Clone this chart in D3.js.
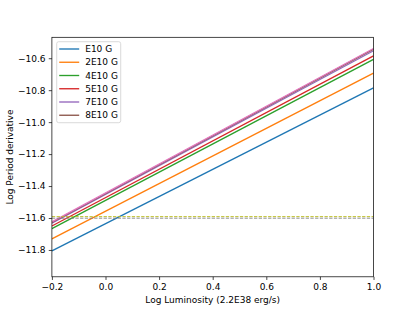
<!DOCTYPE html>
<html>
<head>
<meta charset="utf-8">
<script src="https://cdn.jsdelivr.net/npm/d3@7"></script>
<style>
  body { margin: 0; background: #fff; }
  svg text { font-family: "DejaVu Sans", sans-serif; }
</style>
</head>
<body>
<div id="chart"></div>
<script>
// log luminosity end points
var lumX = [-0.2, 1.0]

// log Pdot at the two end points, one array per field strength
var fieldLabels = ["E10 G", "2E10 G", "4E10 G", "5E10 G", "7E10 G", "8E10 G", ""]
var pdotE10 = [-11.806, -10.785]
var pdot2E10 = [-11.731, -10.693]
var pdot4E10 = [-11.667, -10.607]
var pdot5E10 = [-11.650, -10.585]
var pdot7E10 = [-11.633, -10.553]
var pdot8E10 = [-11.628, -10.543]
var pdotExtra = [-11.624, -10.539]
var lineColors = ["#1f77b4", "#ff7f0e", "#2ca02c", "#d62728", "#9467bd", "#8c564b", "#e377c2"]

// horizontal dashed reference levels
var refLevels = [-11.601, -11.591]
var refColors = ["#7f7f7f", "#bcbd22"]

var xTicks = [-0.2, 0.0, 0.2, 0.4, 0.6, 0.8, 1.0]
var yTicks = [-11.8, -11.6, -11.4, -11.2, -11.0, -10.8, -10.6]

var series = [pdotE10, pdot2E10, pdot4E10, pdot5E10, pdot7E10, pdot8E10, pdotExtra]

var W = 415, H = 311
var margin = { top: 37.3, right: 41.5, bottom: 34.2, left: 51.9 },
  width = W - margin.left - margin.right,
  height = H - margin.top - margin.bottom

var svg = d3.select("#chart")
  .append("svg")
  .attr("width", W)
  .attr("height", H)
  .append("g")
  .attr("transform", "translate(" + margin.left + "," + margin.top + ")")

var x = d3.scaleLinear().domain([-0.2, 1.0]).range([0, width])
var y = d3.scaleLinear().domain([-11.968, -10.469]).range([height, 0])

svg.append("defs").append("clipPath").attr("id", "clip")
  .append("rect").attr("width", width).attr("height", height)

var plot = svg.append("g").attr("clip-path", "url(#clip)")

var line = d3.line()
  .x(function (d, i) { return x(lumX[i]) })
  .y(function (d) { return y(d) })

series.forEach(function (s, k) {
  plot.append("path")
    .datum(s)
    .attr("d", line)
    .attr("fill", "none")
    .attr("stroke", lineColors[k])
    .attr("stroke-width", 1.35)
})

refLevels.forEach(function (v, k) {
  plot.append("line")
    .attr("x1", 0).attr("x2", width)
    .attr("y1", y(v)).attr("y2", y(v))
    .attr("stroke", refColors[k])
    .attr("stroke-width", 0.9)
    .attr("stroke-dasharray", "3.3,1.4")
})

// axes
var fmt = d3.format(".1f")
svg.append("g")
  .attr("transform", "translate(0," + height + ")")
  .call(d3.axisBottom(x).tickValues(xTicks).tickFormat(fmt).tickSize(3.15).tickPadding(3.2))
svg.append("g")
  .call(d3.axisLeft(y).tickValues(yTicks).tickFormat(fmt).tickSize(3.15).tickPadding(3.2))

svg.selectAll(".domain").remove()
svg.selectAll(".tick line").attr("stroke", "#000").attr("stroke-width", 0.72)
svg.selectAll(".tick text").attr("font-size", 9).attr("fill", "#000")
  .style("font-family", "DejaVu Sans")

svg.append("rect")
  .attr("width", width).attr("height", height)
  .attr("fill", "none").attr("stroke", "#000").attr("stroke-width", 0.72)

// axis labels
svg.append("text")
  .attr("text-anchor", "middle")
  .attr("x", width / 2)
  .attr("y", height + 26)
  .attr("font-size", 9)
  .text("Log Luminosity (2.2E38 erg/s)")

svg.append("text")
  .attr("text-anchor", "middle")
  .attr("transform", "rotate(-90)")
  .attr("x", -height / 2)
  .attr("y", -margin.left + 13)
  .attr("font-size", 9)
  .text("Log Period derivative")

// legend
var legend = svg.append("g").attr("transform", "translate(4.8,4.4)")
legend.append("rect")
  .attr("width", 64).attr("height", 81)
  .attr("rx", 2)
  .attr("fill", "#fff").attr("fill-opacity", 0.8)
  .attr("stroke", "#cccccc").attr("stroke-width", 0.72)

var named = fieldLabels.filter(function (d) { return d !== "" })
var rows = legend.selectAll("g.row")
  .data(named)
  .enter()
  .append("g")
  .attr("transform", function (d, i) { return "translate(0," + (7.3 + i * 13.25) + ")" })

rows.append("line")
  .attr("x1", 2.5).attr("x2", 22.5)
  .attr("stroke", function (d, i) { return lineColors[i] })
  .attr("stroke-width", 1.35)

rows.append("text")
  .attr("x", 28.5)
  .attr("dy", "0.35em")
  .attr("font-size", 9)
  .text(function (d) { return d })
</script>
</body>
</html>
